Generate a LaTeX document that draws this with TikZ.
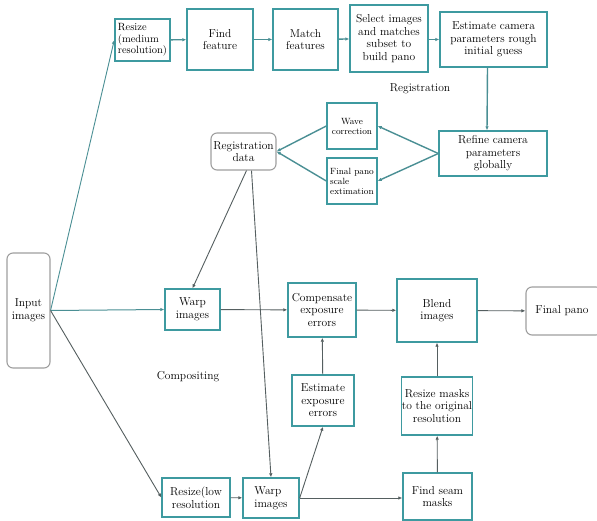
\documentclass[tikz,border=0pt]{standalone}
\usetikzlibrary{arrows.meta,calc}
\definecolor{boxteal}{HTML}{3E9AA0}
\definecolor{arrgray}{HTML}{555F60}
\definecolor{arrteal}{HTML}{4A8F94}
\begin{document}
\begin{tikzpicture}[x=1pt,y=-1pt,
  every node/.style={font=\fontsize{11.5}{12.5}\selectfont, inner sep=1pt, align=center},
  box/.style={draw=boxteal, line width=1.4pt, fill=white, minimum width=#1},
  rbox/.style={draw=gray!75, line width=1.1pt, rounded corners=6pt, fill=white},
  small/.style={font=\fontsize{9}{10}\selectfont},
  arr/.style={draw=arrgray, line width=0.9pt, -{Latex[length=4pt,width=3.5pt]}},
  tarr/.style={draw=arrteal, line width=1.4pt, -{Latex[length=4pt,width=3.5pt]}},
  lbl/.style={font=\fontsize{11.5}{12.5}\selectfont}
]
\useasboundingbox[fill=white] (0,0) rectangle (597,521);

% Registration part
\node[box=55pt, minimum height=42pt, align=left, inner sep=0.5pt, font=\fontsize{10.5}{11.5}\selectfont] (rmed) at (142.5,40) {Resize\\(medium\\resolution)};
\node[box=66pt, minimum height=61pt] (find) at (220,39.5) {Find\\feature};
\node[box=65pt, minimum height=61pt] (match) at (305.5,39.5) {Match\\features};
\node[box=78pt, minimum height=67pt, inner sep=0.5pt] (select) at (389,38.5) {Select images\\and matches\\subset to\\build pano};
\node[box=107pt, minimum height=55pt] (estcam) at (493.5,39.5) {Estimate camera\\parameters rough\\initial guess};
\node[box=108pt, minimum height=45pt] (refine) at (493,153.5) {Refine camera\\parameters\\globally};
\node[box=50pt, minimum height=46pt, small] (wave) at (352,126) {Wave\\correction};
\node[box=50pt, minimum height=46pt, small, align=left, inner sep=0.5pt] (scale) at (352,181) {Final pano\\scale\\extimation};
\node[rbox, minimum width=65pt, minimum height=37pt] (regdata) at (243.5,151.5) {Registration\\data};
\node[lbl] (reglbl) at (420,89) {Registration};

% Compositing part
\node[rbox, minimum width=43pt, minimum height=115pt] (input) at (28.5,310.5) {Input\\images};
\node[box=55pt, minimum height=41pt] (warp1) at (192.5,309.5) {Warp\\images};
\node[box=68pt, minimum height=54pt, inner sep=0.5pt] (comp) at (322,310) {Compensate\\exposure\\errors};
\node[box=80pt, minimum height=63pt] (blend) at (437,310.5) {Blend\\images};
\node[rbox, minimum width=76pt, minimum height=48pt] (final) at (564,311) {Final pano\hspace*{4pt}};
\node[box=62pt, minimum height=51pt] (estexp) at (323,400.5) {Estimate\\exposure\\errors};
\node[box=70pt, minimum height=58pt, inner sep=0.5pt] (rmask) at (437,406) {Resize masks\\to the original\\resolution};
\node[box=68pt, minimum height=39pt] (rlow) at (196,497.5) {Resize(low\\resolution};
\node[box=56pt, minimum height=40pt, align=left] (warp2) at (271,498) {Warp\\images};
\node[box=69pt, minimum height=47pt] (seam) at (437.5,496.5) {Find seam\\masks};
\node[lbl] (complbl) at (188,377) {Compositing};

% Registration connectors
\draw[arr, draw=arrteal] (input.east) -- (rmed.west);
\draw[tarr] (rmed) -- (find);
\draw[tarr] (find) -- (match);
\draw[tarr] (match) -- (select);
\draw[tarr] (select.east |- estcam.west) -- (estcam.west);
\draw[tarr] ($(estcam.south)+(-6,0)$) -- ($(refine.north)+(-6,0)$);
\draw[tarr] (refine.west) -- (wave.east);
\draw[tarr] (refine.west) -- (scale.east);
\draw[tarr] (wave.west) -- (regdata.east);
\draw[tarr] (scale.west) -- (regdata.east);
\draw[arr] ($(regdata.south)+(3,0)$) -- (warp1.north);
\draw[arr] ($(regdata.south)+(8,0)$) -- (warp2.north);

% Compositing connectors
\draw[tarr, line width=1pt] (input.east) -- (warp1.west);
\draw[arr] (input.east) -- (rlow.west);
\draw[arr] (warp1) -- (comp);
\draw[arr] (comp) -- (blend);
\draw[arr] (blend) -- (final);
\draw[arr] (estexp) -- (comp);
\draw[arr] (rmask) -- (blend);
\draw[arr] (seam) -- (rmask);
\draw[arr] (rlow) -- (warp2);
\draw[arr] (warp2.east) -- (estexp.south);
\draw[arr] (warp2.east) -- (warp2.east -| seam.west);
\end{tikzpicture}
\end{document}
